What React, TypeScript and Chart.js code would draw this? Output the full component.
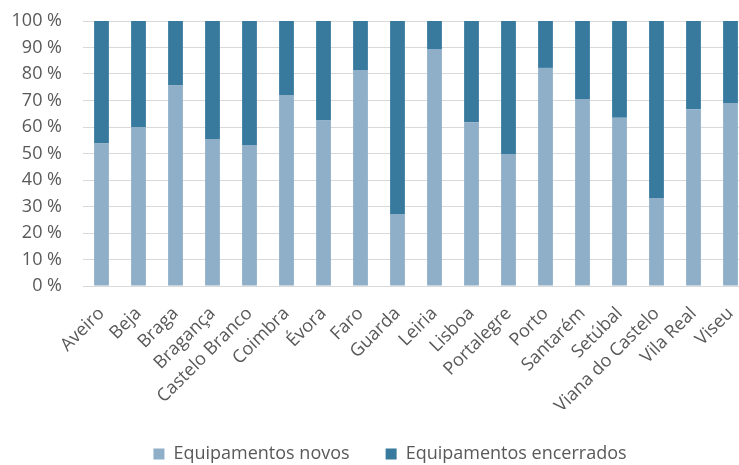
import React, { useEffect, useRef } from "react";
import { Chart, registerables } from "chart.js";

Chart.register(...registerables);

const categories = [
  "Aveiro", "Beja", "Braga", "Bragança", "Castelo Branco", "Coimbra", "Évora", "Faro",
  "Guarda", "Leiria", "Lisboa", "Portalegre", "Porto", "Santarém", "Setúbal",
  "Viana do Castelo", "Vila Real", "Viseu",
];
const novos = [53.8, 60.0, 75.7, 55.5, 53.2, 72.1, 62.5, 81.5, 27.2, 89.4, 61.8, 49.8, 82.3, 70.6, 63.5, 33.2, 66.7, 69.1];
const encerrados = [46.2, 40.0, 24.3, 44.5, 46.8, 27.9, 37.5, 18.5, 72.8, 10.6, 38.2, 50.2, 17.7, 29.4, 36.5, 66.8, 33.3, 30.9];
const seriesNames = ["Equipamentos novos", "Equipamentos encerrados"];
const yTicks = [0, 10, 20, 30, 40, 50, 60, 70, 80, 90, 100];

const FONT = "'Open Sans', sans-serif";
const TEXT = "#595959";

export default function App() {
  const ref = useRef<HTMLCanvasElement | null>(null);
  useEffect(() => {
    if (!ref.current) return;
    const chart = new Chart(ref.current, {
      type: "bar",
      data: {
        labels: categories,
        datasets: [
          { label: seriesNames[0], data: novos, backgroundColor: "#8FAEC8", barPercentage: 0.4, categoryPercentage: 1 },
          { label: seriesNames[1], data: encerrados, backgroundColor: "#387A9D", barPercentage: 0.4, categoryPercentage: 1 },
        ],
      },
      options: {
        animation: false,
        responsive: false,
        devicePixelRatio: 1,
        layout: { padding: { top: 21, left: 0, right: 0, bottom: 0 } },
        plugins: {
          tooltip: { enabled: false },
          legend: {
            position: "bottom",
            labels: {
              font: { family: FONT, size: 18 },
              color: TEXT,
              boxWidth: 11,
              boxHeight: 11,
              padding: 36,
            },
          },
        },
        scales: {
          x: {
            stacked: true,
            grid: { display: false },
            border: { display: false },
            ticks: {
              autoSkip: false,
              minRotation: 45,
              maxRotation: 45,
              padding: 9,
              color: TEXT,
              font: { family: FONT, size: 18 },
            },
            afterFit: (s: any) => { s.height = 123; },
          },
          y: {
            stacked: true,
            min: 0,
            max: 100,
            afterBuildTicks: (s: any) => { s.ticks = yTicks.map((v) => ({ value: v })); },
            grid: { color: "#D9D9D9", lineWidth: 1, drawTicks: true, tickLength: 18, tickColor: "rgba(0,0,0,0)" },
            border: { display: false },
            ticks: {
              padding: 3,
              color: TEXT,
              font: { family: FONT, size: 18 },
              callback: (v: any) => v + " %",
            },
            afterFit: (s: any) => { s.width = 83; },
          },
          y2: {
            type: "linear",
            position: "right",
            display: true,
            grid: { display: false },
            border: { display: false },
            ticks: { display: false },
            afterFit: (s: any) => { s.width = 31; },
          },
        },
      },
    });
    return () => chart.destroy();
  }, []);
  return (
    <div style={{ position: "fixed", left: 0, top: 0, width: 739, height: 465, overflow: "hidden", background: "#fff" }}>
      <canvas ref={ref} width={780} height={473} style={{ display: "block" }} />
    </div>
  );
}
